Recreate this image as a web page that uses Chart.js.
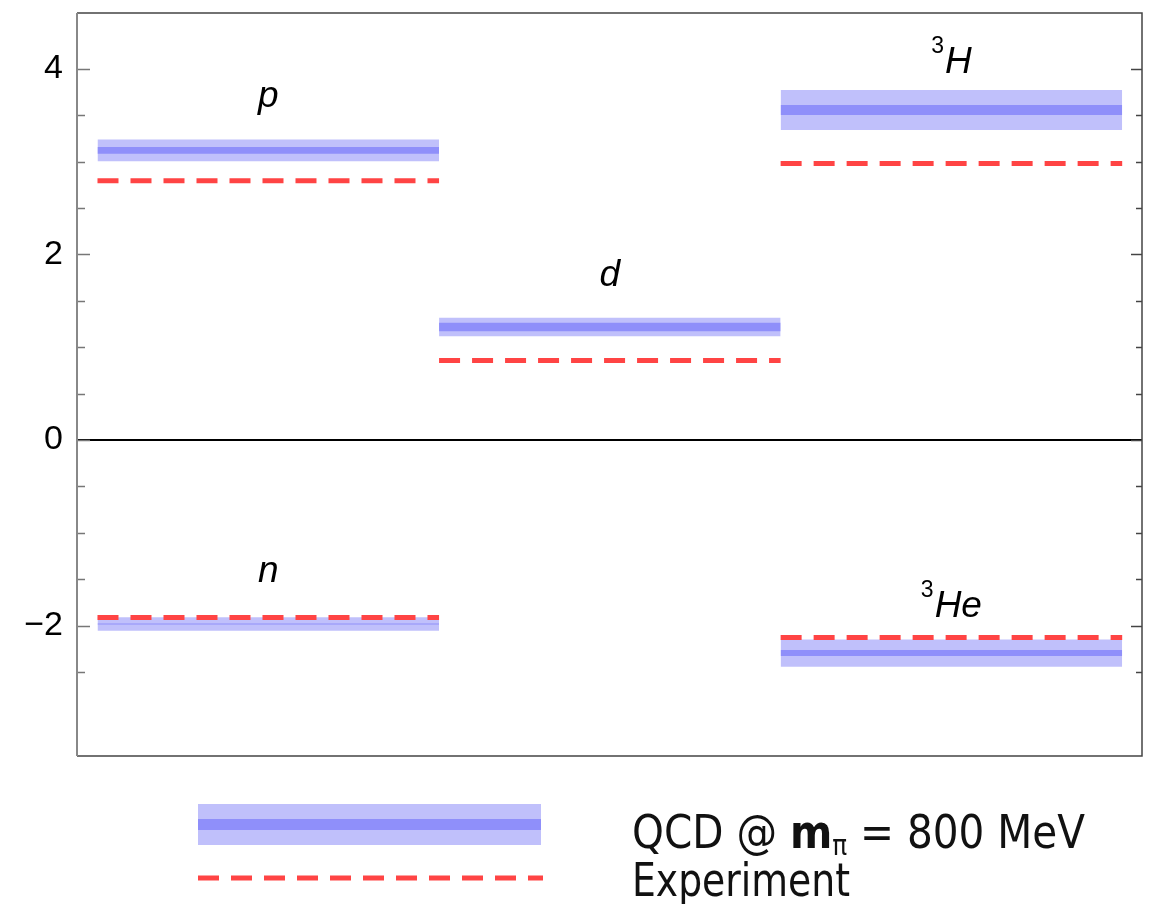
<!DOCTYPE html>
<html lang="en">
<head>
<meta charset="UTF-8">
<title>Magnetic moments: QCD vs experiment</title>
<script src="https://cdn.jsdelivr.net/npm/chart.js"></script>
<style>
  html, body { margin: 0; padding: 0; background: #fff; }
</style>
</head>
<body>
<canvas id="myChart" width="1151" height="904"></canvas>
<script>
// particles, their column (0..2) and values
const labelMain = ['p', 'n', 'd', 'H', 'He'];
const labelSup = ['', '', '', '3', '3'];
const column = [0, 0, 1, 2, 2];
const qcdValue = [3.121, -1.982, 1.217, 3.555, -2.295];
const qcdStat = [0.036, 0.006, 0.045, 0.054, 0.032];
const qcdTotal = [0.117, 0.072, 0.100, 0.215, 0.147];
const experiment = [2.793, -1.913, 0.857, 2.979, -2.128];
const labelY = [3.587, -1.53, 1.659, 3.953, -1.907];
const yTickValues = [-2, 0, 2, 4];

const RED = '#ff4444';
const LIGHT = '#c0c0fb';
const DARK = '#8f8ffa';

const datasets = [];
labelMain.forEach((name, i) => {
    const x0 = column[i], x1 = column[i] + 1;
    const v = qcdValue[i];
    datasets.push({
        label: 'Experiment ' + name,
        data: [{ x: x0, y: experiment[i] }, { x: x1, y: experiment[i] }],
        borderColor: RED, borderWidth: 5, borderDash: [21, 12], borderCapStyle: 'butt',
        pointRadius: 0, fill: false, order: 0
    });
    datasets.push({
        label: 'QCD stat ' + name,
        data: [{ x: x0, y: v + qcdStat[i] }, { x: x1, y: v + qcdStat[i] }],
        borderColor: 'rgba(0,0,0,0)', borderWidth: 0, pointRadius: 0,
        fill: { target: { value: v - qcdStat[i] }, above: DARK, below: DARK },
        order: 1
    });
    datasets.push({
        label: 'QCD total ' + name,
        data: [{ x: x0, y: v + qcdTotal[i] }, { x: x1, y: v + qcdTotal[i] }],
        borderColor: 'rgba(0,0,0,0)', borderWidth: 0, pointRadius: 0,
        fill: { target: { value: v - qcdTotal[i] }, above: LIGHT, below: LIGHT },
        order: 2
    });
});

// frame, inward ticks, particle names and the legend below the plot
const decorations = {
    id: 'decorations',
    afterDraw(chart) {
        const { ctx, chartArea: a } = chart;
        const y = chart.scales.y, x = chart.scales.x;
        ctx.save();

        // ticks on both sides
        y.ticks.forEach(t => {
            const py = Math.round(y.getPixelForValue(t.value)) + 0.5;
            const major = yTickValues.some(m => Math.abs(m - t.value) < 1e-6);
            ctx.lineWidth = 1.5;
            ctx.strokeStyle = '#777';
            ctx.beginPath();
            ctx.moveTo(a.left, py);
            ctx.lineTo(a.left + (major ? 13 : 8), py);
            ctx.stroke();
            ctx.strokeStyle = '#444';
            ctx.beginPath();
            ctx.moveTo(a.right, py);
            ctx.lineTo(a.right - (major ? 11 : 6), py);
            ctx.stroke();
        });

        // frame
        ctx.lineWidth = 1.5;
        ctx.strokeStyle = '#444';
        ctx.beginPath();
        ctx.moveTo(a.left, a.top);
        ctx.lineTo(a.right, a.top);
        ctx.lineTo(a.right, a.bottom);
        ctx.lineTo(a.left, a.bottom);
        ctx.stroke();
        ctx.lineWidth = 2;
        ctx.strokeStyle = '#888';
        ctx.beginPath();
        ctx.moveTo(a.left, a.top);
        ctx.lineTo(a.left, a.bottom);
        ctx.stroke();

        // particle names
        ctx.fillStyle = '#000';
        ctx.textBaseline = 'alphabetic';
        ctx.textAlign = 'left';
        labelMain.forEach((name, i) => {
            const cx = x.getPixelForValue(column[i] + 0.5);
            const by = y.getPixelForValue(labelY[i]);
            const mainFont = 'italic 37px "Liberation Sans", Arial, sans-serif';
            const supFont = '23px "Liberation Sans", Arial, sans-serif';
            ctx.font = supFont;
            const ws = labelSup[i] ? ctx.measureText(labelSup[i]).width + 1 : 0;
            ctx.font = mainFont;
            const wm = ctx.measureText(name).width;
            let sx = cx - (ws + wm) / 2;
            if (labelSup[i]) {
                ctx.font = supFont;
                ctx.fillText(labelSup[i], sx, by - 20);
                sx += ws;
            }
            ctx.font = mainFont;
            ctx.fillText(name, sx, by);
        });

        // legend
        ctx.fillStyle = LIGHT;
        ctx.fillRect(198, 804, 343, 41);
        ctx.fillStyle = DARK;
        ctx.fillRect(198, 819, 343, 11);
        ctx.strokeStyle = RED;
        ctx.lineWidth = 5;
        ctx.setLineDash([21, 12]);
        ctx.beginPath();
        ctx.moveTo(198, 878);
        ctx.lineTo(543, 878);
        ctx.stroke();
        ctx.setLineDash([]);

        const fam = '"Liberation Sans Narrow", "DejaVu Sans Condensed", sans-serif';
        const parts = [
            { t: 'QCD @ ', f: '46px ' + fam, dy: 0 },
            { t: 'm', f: 'bold 46px ' + fam, dy: 0 },
            { t: '\u03c0', f: '28px ' + fam, dy: 7 },
            { t: ' = 800 MeV', f: '46px ' + fam, dy: 0 }
        ];
        let total = 0;
        parts.forEach(p => { ctx.font = p.f; p.w = ctx.measureText(p.t).width; total += p.w; });
        ctx.fillStyle = '#111';
        ctx.save();
        ctx.translate(632, 848);
        ctx.scale(453 / total, 1);
        let px = 0;
        parts.forEach(p => { ctx.font = p.f; ctx.fillText(p.t, px, p.dy); px += p.w; });
        ctx.restore();
        ctx.font = '46px ' + fam;
        const we = ctx.measureText('Experiment').width;
        ctx.save();
        ctx.translate(632, 896);
        ctx.scale(218 / we, 1);
        ctx.fillText('Experiment', 0, 0);
        ctx.restore();

        ctx.restore();
    }
};

const ctx = document.getElementById('myChart').getContext('2d');
const myChart = new Chart(ctx, {
    type: 'line',
    data: { datasets: datasets },
    options: {
        responsive: false,
        animation: false,
        layout: { padding: { top: 13, right: 9, bottom: 148, left: 0 } },
        plugins: {
            legend: { display: false },
            tooltip: { enabled: false }
        },
        scales: {
            x: { type: 'linear', min: -0.06, max: 3.058, display: false },
            y: {
                type: 'linear',
                min: -3.404,
                max: 4.6,
                afterFit: s => { s.width = 77; s.paddingTop = 0; s.paddingBottom = 0; },
                afterBuildTicks: s => {
                    s.ticks = s.ticks.filter(t => Math.abs(t.value * 2 - Math.round(t.value * 2)) < 1e-6);
                },
                border: { display: false },
                grid: {
                    drawTicks: false,
                    lineWidth: 2,
                    color: c => (c.tick && Math.abs(c.tick.value) < 1e-6) ? '#000' : 'rgba(0,0,0,0)'
                },
                ticks: {
                    stepSize: 0.5,
                    padding: 14,
                    color: '#000',
                    font: { size: 34, family: '"Liberation Sans", Arial, sans-serif' },
                    callback: v => {
                        const m = yTickValues.find(t => Math.abs(t - v) < 1e-6);
                        if (m === undefined) return '';
                        return m < 0 ? '\u2212' + Math.abs(m) : String(m);
                    }
                }
            }
        }
    },
    plugins: [decorations]
});
</script>
</body>
</html>
